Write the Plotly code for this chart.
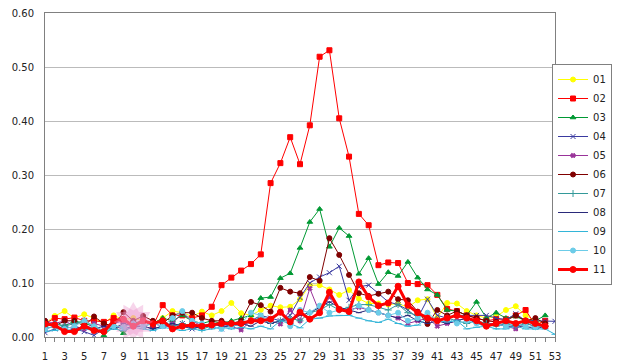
import plotly.graph_objects as go

weeks = list(range(1, 54))
x_ticks = list(range(1, 54, 2))

s01 = [0.025, 0.039, 0.048, 0.035, 0.042, 0.035, 0.025, 0.040, 0.032, 0.035,
       0.030, 0.025, 0.035, 0.048, 0.045, 0.038, 0.047, 0.040, 0.048, 0.063,
       0.044, 0.040, 0.050, 0.058, 0.055, 0.056, 0.070, 0.096, 0.096, 0.088,
       0.078, 0.087, 0.071, 0.062, 0.062, 0.060, 0.062, 0.055, 0.068, 0.070,
       0.035, 0.063, 0.062, 0.048, 0.040, 0.035, 0.038, 0.050, 0.057, 0.040,
       0.030, 0.025, None]
s02 = [0.025, 0.035, 0.033, 0.036, 0.030, 0.030, 0.028, 0.035, 0.030, 0.025,
       0.030, 0.020, 0.059, 0.040, 0.040, 0.035, 0.040, 0.056, 0.096, 0.110,
       0.123, 0.135, 0.153, 0.285, 0.322, 0.370, 0.320, 0.392, 0.519, 0.531,
       0.405, 0.334, 0.228, 0.207, 0.133, 0.138, 0.137, 0.100, 0.098, 0.096,
       0.078, 0.052, 0.048, 0.040, 0.035, 0.030, 0.033, 0.033, 0.040, 0.050,
       0.022, 0.030, None]
s03 = [0.020, 0.025, 0.020, 0.030, 0.025, 0.020, 0.003, 0.020, 0.007, 0.025,
       0.030, 0.025, 0.035, 0.030, 0.040, 0.030, 0.025, 0.030, 0.025, 0.030,
       0.035, 0.040, 0.072, 0.074, 0.109, 0.118, 0.165, 0.213, 0.237, 0.167,
       0.202, 0.187, 0.117, 0.146, 0.098, 0.120, 0.113, 0.139, 0.110, 0.088,
       0.078, 0.050, 0.048, 0.040, 0.065, 0.035, 0.045, 0.035, 0.038, 0.030,
       0.030, 0.040, None]
s04 = [0.008, 0.015, 0.020, 0.015, 0.010, 0.003, 0.015, 0.020, 0.015, 0.020,
       0.020, 0.015, 0.020, 0.020, 0.025, 0.015, 0.020, 0.020, 0.015, 0.025,
       0.020, 0.030, 0.040, 0.035, 0.030, 0.040, 0.073, 0.100, 0.111, 0.119,
       0.131, 0.068, 0.093, 0.096, 0.081, 0.065, 0.060, 0.050, 0.035, 0.070,
       0.040, 0.035, 0.040, 0.040, 0.040, 0.040, 0.035, 0.032, 0.043, 0.030,
       0.030, 0.030, 0.029]
s05 = [0.030, 0.025, 0.030, 0.020, 0.015, 0.025, 0.020, 0.025, 0.030, 0.020,
       0.030, 0.025, 0.020, 0.025, 0.045, 0.030, 0.020, 0.025, 0.020, 0.020,
       0.013, 0.030, 0.035, 0.030, 0.024, 0.050, 0.030, 0.090, 0.045, 0.074,
       0.050, 0.050, 0.055, 0.050, 0.045, 0.040, 0.035, 0.025, 0.030, 0.035,
       0.020, 0.025, 0.030, 0.035, 0.030, 0.025, 0.025, 0.020, 0.015, 0.025,
       0.020, 0.020, None]
s06 = [0.030, 0.020, 0.030, 0.030, 0.020, 0.038, 0.025, 0.020, 0.046, 0.030,
       0.039, 0.030, 0.025, 0.040, 0.045, 0.045, 0.035, 0.030, 0.030, 0.025,
       0.030, 0.065, 0.059, 0.047, 0.091, 0.084, 0.081, 0.111, 0.104, 0.183,
       0.152, 0.115, 0.081, 0.076, 0.080, 0.084, 0.070, 0.068, 0.047, 0.024,
       0.050, 0.040, 0.048, 0.040, 0.035, 0.030, 0.028, 0.030, 0.040, 0.030,
       0.035, 0.025, None]
s07 = [0.020, 0.025, 0.020, 0.025, 0.030, 0.020, 0.010, 0.020, 0.020, 0.025,
       0.020, 0.025, 0.030, 0.020, 0.025, 0.020, 0.015, 0.020, 0.025, 0.020,
       0.025, 0.030, 0.035, 0.025, 0.030, 0.035, 0.030, 0.045, 0.050, 0.060,
       0.050, 0.055, 0.060, 0.060, 0.055, 0.050, 0.060, 0.045, 0.040, 0.035,
       0.030, 0.035, 0.030, 0.025, 0.030, 0.025, 0.020, 0.025, 0.020, 0.025,
       0.020, 0.020, None]
s08 = [0.015, 0.020, 0.010, 0.015, 0.020, 0.015, 0.020, 0.015, 0.025, 0.020,
       0.020, 0.015, 0.020, 0.025, 0.020, 0.015, 0.020, 0.025, 0.020, 0.020,
       0.025, 0.020, 0.030, 0.025, 0.030, 0.030, 0.040, 0.045, 0.055, 0.065,
       0.055, 0.050, 0.045, 0.050, 0.045, 0.040, 0.035, 0.040, 0.030, 0.025,
       0.030, 0.025, 0.030, 0.035, 0.025, 0.020, 0.025, 0.020, 0.020, 0.020,
       0.015, 0.020, None]
s09 = [0.010, 0.012, 0.015, 0.010, 0.015, 0.012, 0.010, 0.015, 0.012, 0.018,
       0.015, 0.012, 0.018, 0.015, 0.012, 0.015, 0.012, 0.015, 0.018, 0.015,
       0.018, 0.015, 0.020, 0.015, 0.030, 0.025, 0.017, 0.033, 0.035, 0.039,
       0.040, 0.040, 0.035, 0.030, 0.027, 0.033, 0.025, 0.020, 0.022, 0.035,
       0.030, 0.028, 0.030, 0.015, 0.018, 0.020, 0.015, 0.015, 0.020, 0.015,
       0.015, 0.015, 0.005]
s10 = [0.015, 0.020, 0.015, 0.020, 0.030, 0.020, 0.012, 0.020, 0.018, 0.025,
       0.020, 0.025, 0.020, 0.035, 0.048, 0.030, 0.025, 0.020, 0.015, 0.020,
       0.025, 0.045, 0.040, 0.030, 0.045, 0.020, 0.050, 0.045, 0.058, 0.045,
       0.050, 0.045, 0.058, 0.050, 0.045, 0.040, 0.045, 0.030, 0.035, 0.045,
       0.030, 0.035, 0.025, 0.030, 0.025, 0.020, 0.025, 0.020, 0.025, 0.020,
       0.018, 0.020, None]
s11 = [0.024, 0.022, 0.010, 0.010, 0.020, 0.012, 0.010, 0.030, 0.033, 0.020,
       0.030, 0.025, 0.030, 0.015, 0.020, 0.022, 0.020, 0.022, 0.025, 0.025,
       0.025, 0.030, 0.030, 0.033, 0.046, 0.028, 0.046, 0.033, 0.045, 0.083,
       0.051, 0.047, 0.102, 0.074, 0.058, 0.063, 0.094, 0.059, 0.045, 0.035,
       0.030, 0.035, 0.040, 0.035, 0.030, 0.020, 0.025, 0.030, 0.025, 0.030,
       0.025, 0.020, None]

series_names = ["01", "02", "03", "04", "05", "06", "07", "08", "09", "10", "11"]
series_values = [s01, s02, s03, s04, s05, s06, s07, s08, s09, s10, s11]

# decoration: pink burst near week 10
burst_x = [10]
burst_y = [0.028]

styles = [
    dict(color="#FFFF00", symbol="circle", size=5, width=1),
    dict(color="#FF0000", symbol="square", size=5, width=1),
    dict(color="#009933", symbol="triangle-up", size=5, width=1),
    dict(color="#3A3AA0", symbol="x-thin-open", size=5, width=1),
    dict(color="#993399", symbol="x", size=4, width=1),
    dict(color="#800000", symbol="circle", size=5, width=1),
    dict(color="#339999", symbol="cross-thin-open", size=5, width=1),
    dict(color="#2A2A7A", symbol="line-ew-open", size=4, width=1),
    dict(color="#33B5D8", symbol="line-ew-open", size=5, width=1),
    dict(color="#6CCCE8", symbol="circle", size=5, width=1),
    dict(color="#FF0000", symbol="circle", size=6, width=3),
]

fig = go.Figure()
for name, vals, st in zip(series_names, series_values, styles):
    fig.add_trace(go.Scatter(
        x=weeks, y=vals, name=name, mode="lines+markers",
        line=dict(color=st["color"], width=st["width"]),
        marker=dict(symbol=st["symbol"], size=st["size"], color=st["color"],
                    line=dict(color=st["color"], width=1)),
    ))

fig.add_trace(go.Scatter(
    x=burst_x, y=burst_y, mode="markers", showlegend=False, hoverinfo="skip",
    marker=dict(symbol="hexagram", size=30, color="rgba(235,150,205,0.4)", line=dict(width=0)),
))
fig.add_trace(go.Scatter(
    x=burst_x, y=burst_y, mode="markers", showlegend=False, hoverinfo="skip",
    marker=dict(symbol="hexagram", size=30, angle=30, color="rgba(235,150,205,0.4)", line=dict(width=0)),
))

font_family = "DejaVu Sans"
fig.update_layout(
    width=619, height=364,
    margin=dict(l=45, r=64, t=13, b=27, autoexpand=False),
    paper_bgcolor="white", plot_bgcolor="white",
    font=dict(family=font_family, size=10, color="#222222"),
    showlegend=True,
    legend=dict(x=1.1118, y=0.5015, xanchor="right", yanchor="middle",
                bordercolor="#808080", borderwidth=1, bgcolor="white",
                font=dict(size=10), itemwidth=30, tracegroupgap=0),
    xaxis=dict(
        range=[1, 53], tickmode="array", tickvals=x_ticks,
        ticktext=[str(v) for v in x_ticks], automargin=False,
        showgrid=False, zeroline=False,
        showline=True, linecolor="#808080", linewidth=1, mirror=True,
        ticks="outside", ticklen=4, tickcolor="#808080",
        minor=dict(dtick=1, tick0=1, ticks="outside", ticklen=4, tickcolor="#808080", showgrid=False),
        ticklabelstandoff=6,
    ),
    yaxis=dict(
        range=[0, 0.6], dtick=0.1, tickformat=".2f", automargin=False,
        showgrid=True, gridcolor="#BBBBBB", gridwidth=1,
        zeroline=False,
        showline=True, linecolor="#808080", linewidth=1, mirror=True,
        ticks="", ticklabelstandoff=8,
    ),
)

fig.write_html("out.html", config={"displayModeBar": False},
               post_script="document.body.style.margin='0';")
